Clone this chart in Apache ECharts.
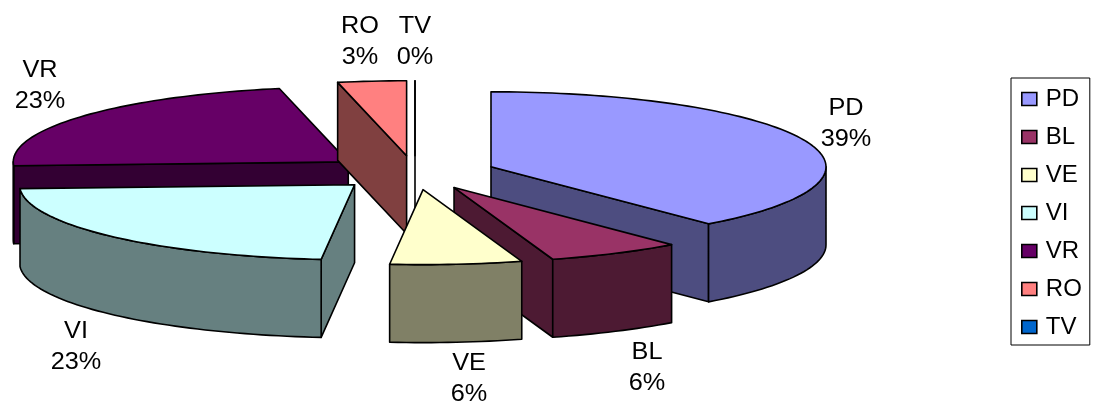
<!DOCTYPE html>
<html><head><meta charset="utf-8">
<style>html,body{margin:0;padding:0;background:#fff}#c{width:1095px;height:405px}</style>
<script src="https://cdn.jsdelivr.net/npm/echarts@6/dist/echarts.min.js"></script>
</head><body><div id="c"></div>
<script>
// Data
const categories = ['PD','BL','VE','VI','VR','RO','TV'];
const shares     = [38.75, 6.49, 6.35, 22.6, 22.51, 3.3, 0.0];
const topColors  = ['#9999FF','#993366','#FFFFCC','#CCFFFF','#660066','#FF8080','#0066CC'];
const sideColors = ['#4D4D80','#4D1A33','#808066','#668080','#330033','#804040','#003366'];
// Layout of the oblique projection
const CX = 415, CY = 172.7, RX = 335, RY = 75, DEPTH = 78, EX = 81, EY = 17;
const explodeScale = [1,1,1,1.03,1.04,1,1];
const labelCenters = [[846,124.5],[647,368.5],[469,379.5],[76,347],[40,86.5],[360,42],[415,42]];
const paintOrder = ['VR','RO','TV','PD','VI','BL','VE'];

const total = shares.reduce((a,b)=>a+b,0);
const rad = d => d*Math.PI/180;
const starts = []; let acc = 0;
shares.forEach(v => { starts.push(acc/total*360); acc += v; });

function sliceShapes(i, api){
  const a0 = starts[i], a1 = a0 + shares[i]/total*360, m = rad((a0+a1)/2);
  const ax = CX + EX*explodeScale[i]*Math.sin(m), ay = CY - EY*explodeScale[i]*Math.cos(m);
  const rim = d => [ax + RX*Math.sin(rad(d)), ay - RY*Math.cos(rad(d))];
  const down = p => [p[0], p[1]+DEPTH];
  const style = fill => ({fill, stroke:'#000', lineWidth:1.6, lineJoin:'round'});
  const poly = (pts, fill) => ({type:'polygon', shape:{points:pts}, style:style(fill)});
  const arc = (from,to) => { const n = Math.max(1,Math.ceil(Math.abs(to-from)/1.5)), out=[];
    for(let k=0;k<=n;k++) out.push(rim(from+(to-from)*k/n)); return out; };
  const ch = [];
  const apex = [ax,ay];
  if(a1 < 180) ch.push(poly([apex, rim(a1), down(rim(a1)), down(apex)], sideColors[i]));
  if(a0 > 180) ch.push(poly([apex, rim(a0), down(rim(a0)), down(apex)], sideColors[i]));
  const w0 = Math.max(a0,90), w1 = Math.min(a1,270);
  if(w1 > w0){ const top = arc(w0,w1); ch.push(poly(top.concat(top.slice().reverse().map(down)), sideColors[i])); }
  ch.push(poly([apex].concat(arc(a0,a1)), topColors[i]));
  const pct = Math.round(api.value(0)/total*100);
  const c = labelCenters[i];
  ch.push({type:'text', x:c[0], y:c[1], scaleX:1.1, z2:100,
    style:{text:categories[i]+'\n'+pct+'%', align:'center', verticalAlign:'middle',
      fontFamily:'Liberation Sans', fontSize:23, lineHeight:31, fill:'#000'}});
  return {type:'group', children:ch};
}

const series = paintOrder.map(name => {
  const i = categories.indexOf(name);
  return {type:'custom', name, coordinateSystem:'none', silent:true,
    itemStyle:{color:topColors[i]}, data:[[shares[i]]],
    renderItem:(p,api)=>sliceShapes(i,api)};
});

const chart = echarts.init(document.getElementById('c'), null, {renderer:'canvas'});
chart.setOption({
  animation:false, backgroundColor:'#fff',
  legend:{data:categories, orient:'vertical', left:1011, top:78, itemWidth:15, itemHeight:13, itemGap:12,
    padding:[8,8,5,10], borderColor:'#000', borderWidth:1, align:'left', selectedMode:false,
    icon:'rect', itemStyle:{borderColor:'#000', borderWidth:1.6},
    textStyle:{fontFamily:'Liberation Sans', fontSize:24, lineHeight:26, color:'#000', padding:[0,0,0,4]}},
  series
});
</script></body></html>
